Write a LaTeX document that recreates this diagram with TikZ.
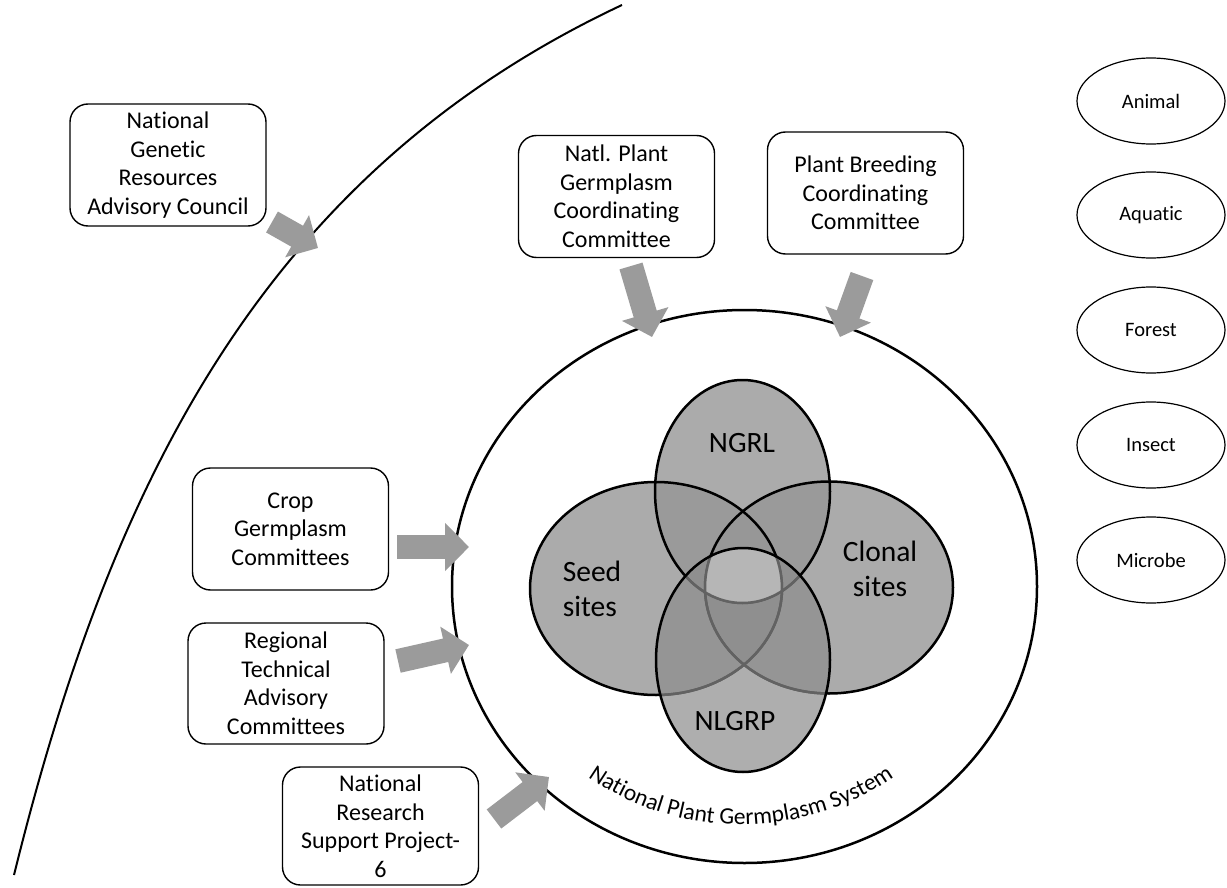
\documentclass[tikz,border=0pt]{standalone}
\usepackage{fontspec}
\setmainfont{Carlito}[Ligatures={NoCommon}]
\usetikzlibrary{arrows.meta,shapes.geometric,decorations.text}
\definecolor{arrowgray}{RGB}{155,155,155}
\definecolor{venngray}{RGB}{150,150,150}
\definecolor{venndark}{RGB}{140,140,140}
\definecolor{centergray}{RGB}{182,182,182}
\definecolor{fadeline}{RGB}{98,98,98}
\newcommand\arcfont{\fontsize{23.5}{27}\selectfont}
\begin{document}
\begin{tikzpicture}[x=1pt,y=-1pt,
  box/.style={draw=black, line width=1.4pt, rounded corners=18pt,
    minimum width=196pt, minimum height=122pt, inner sep=0pt, align=center,
    font=\fontsize{24}{28.5}\selectfont},
  kind/.style={draw=black, line width=1.2pt, ellipse, minimum width=148pt,
    minimum height=86pt, inner sep=0pt, font=\fontsize{20.5}{24}\selectfont},
  vennlabel/.style={inner sep=0pt, align=center, font=\fontsize{29.5}{35}\selectfont},
  vennline/.style={draw=black, line width=2.5pt},
  blockarrow/.style={draw=arrowgray, line width=24pt,
    -{Triangle[length=24pt,width=47pt]}},
  bigline/.style={draw=black, line width=2pt}
]
\useasboundingbox (0,0) rectangle (1227,888);

% outer curve
\coordinate (ctop) at (622,5);
\coordinate (cbot) at (14,875);
\draw[bigline] (ctop) .. controls (260,175) and (109,490) .. (cbot);

% system circle
\draw[line width=2.5pt] (744.5,586.5) ellipse[x radius=292.5, y radius=276.5];

% Venn diagram
\fill[venngray, fill opacity=0.8] (656,588.5) ellipse[x radius=126, y radius=106.5];
\fill[venngray, fill opacity=0.8] (829,587.5) ellipse[x radius=124, y radius=106];
\fill[venngray, fill opacity=0.8] (742.5,491.5) ellipse[x radius=87.5, y radius=111.5];
\draw[vennline] (656,588.5) ellipse[x radius=126, y radius=106.5];
\draw[vennline] (829,587.5) ellipse[x radius=124, y radius=106];
\draw[vennline] (742.5,491.5) ellipse[x radius=87.5, y radius=111.5];
\fill[venndark, fill opacity=0.7] (743,660) ellipse[x radius=87, y radius=112];
\begin{scope}
  \clip (656,588.5) ellipse[x radius=126, y radius=106.5];
  \clip (829,587.5) ellipse[x radius=124, y radius=106];
  \clip (742.5,491.5) ellipse[x radius=87.5, y radius=111.5];
  \clip (743,660) ellipse[x radius=87, y radius=112];
  \fill[centergray] (600,450) rectangle (900,750);
\end{scope}
\begin{scope}
  \clip (743,660) ellipse[x radius=87, y radius=112];
  \draw[fadeline, line width=2.5pt] (656,588.5) ellipse[x radius=126, y radius=106.5];
  \draw[fadeline, line width=2.5pt] (829,587.5) ellipse[x radius=124, y radius=106];
  \draw[fadeline, line width=2.5pt] (742.5,491.5) ellipse[x radius=87.5, y radius=111.5];
\end{scope}
\draw[vennline] (743,660) ellipse[x radius=87, y radius=112];

\node[vennlabel] (ngrl) at (742,443) {NGRL};
\node[vennlabel] (nlgrp) at (735,721) {NLGRP};
\node[vennlabel, align=left] (seed) at (592,589) {Seed\\sites};
\node[vennlabel] (clonal) at (880,569) {Clonal\\sites};

% curved label
\path[decorate, decoration={text along path, text align=center,
  text={|\arcfont|National Plant Germplasm System}}]
  (741,586.5) ++(130:255 and 238) arc[start angle=130, end angle=50, x radius=255, y radius=238];

% boxes
\node[box] (ngrac) at (168,165) {National\\Genetic\\Resources\\Advisory Council};
\node[box] (npgcc) at (616.5,196.5) {Natl. Plant\\Germplasm\\Coordinating\\Committee};
\node[box] (pbcc) at (865.5,193) {Plant Breeding\\Coordinating\\Committee};
\node[box] (crop) at (290.5,529) {Crop\\Germplasm\\Committees};
\node[box, minimum height=121pt] (rtac) at (286,683.5) {Regional\\Technical\\Advisory\\Committees};
\node[box, minimum height=118pt] (nrsp) at (380.5,826) {National\\Research\\Support Project-\\6};

% right ellipses
\node[kind] (animal) at (1151,101) {Animal};
\node[kind] (aquatic) at (1151,215) {Aquatic};
\node[kind] (forest) at (1151,330) {Forest};
\node[kind] (insect) at (1151,445) {Insect};
\node[kind] (microbe) at (1151,560) {Microbe};

% arrows
\coordinate (a1s) at (272,222); \coordinate (a1e) at (318,248);
\coordinate (a2s) at (631,266); \coordinate (a2e) at (652,337);
\coordinate (a3s) at (862,276); \coordinate (a3e) at (840,337);
\coordinate (a4s) at (397,547); \coordinate (a4e) at (469,547);
\coordinate (a5s) at (398,661); \coordinate (a5e) at (469,645);
\coordinate (a6s) at (494,819); \coordinate (a6e) at (549,777);
\draw[blockarrow] (a1s) -- (a1e);
\draw[blockarrow] (a2s) -- (a2e);
\draw[blockarrow] (a3s) -- (a3e);
\draw[blockarrow] (a4s) -- (a4e);
\draw[blockarrow] (a5s) -- (a5e);
\draw[blockarrow] (a6s) -- (a6e);
\end{tikzpicture}
\end{document}
